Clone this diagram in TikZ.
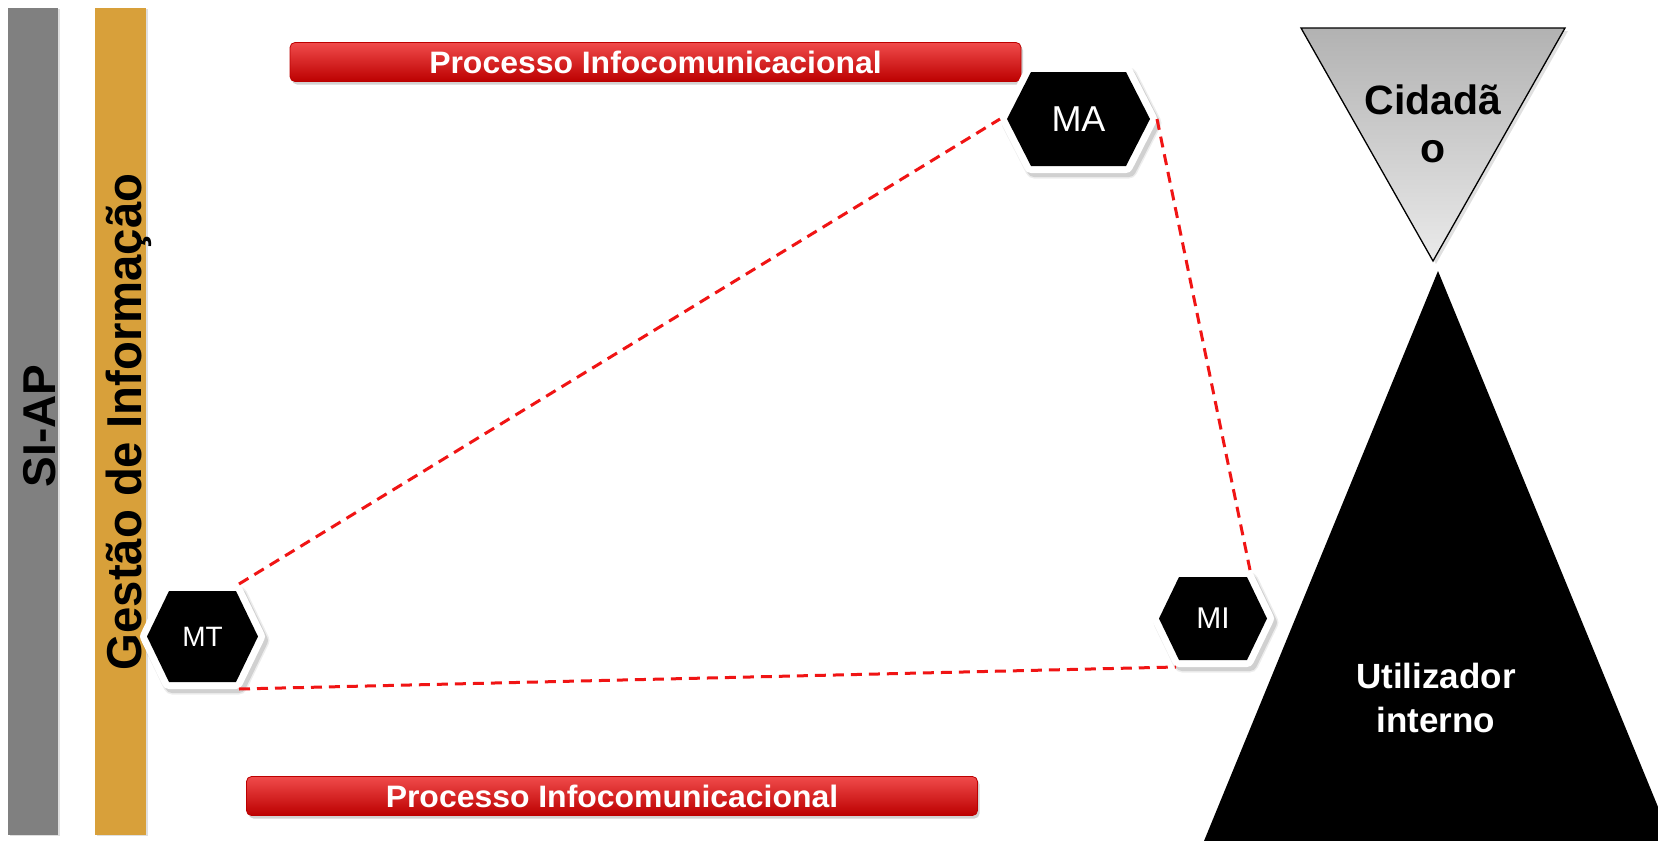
\documentclass[tikz,border=0pt]{standalone}
\usepackage{fontspec}
\setmainfont{Liberation Sans}
\usetikzlibrary{shadows}
\definecolor{siapgrey}{RGB}{128,128,128}
\definecolor{goldbar}{RGB}{216,160,58}
\definecolor{redtop}{RGB}{240,75,75}
\definecolor{redmid}{RGB}{214,8,8}
\definecolor{redbot}{RGB}{188,0,0}
\definecolor{reddash}{RGB}{240,20,20}
\definecolor{tritop}{RGB}{178,178,178}
\definecolor{tribot}{RGB}{234,234,234}
\newcommand\hexbox[9]{% #1 name, #2 cx, #3 cy, #4 half-w, #5 half-h, #6 chamfer, #7 font size, #8 text, #9 unused
  \path[hexshadow] (#2-#4,#3) -- (#2-#4+#6,#3-#5) -- (#2+#4-#6,#3-#5) -- (#2+#4,#3) -- (#2+#4-#6,#3+#5) -- (#2-#4+#6,#3+#5) -- cycle;
  \path[hexshadow, line width=17pt, opacity=0.07] (#2-#4,#3) -- (#2-#4+#6,#3-#5) -- (#2+#4-#6,#3-#5) -- (#2+#4,#3) -- (#2+#4-#6,#3+#5) -- (#2-#4+#6,#3+#5) -- cycle;
  \path[hexrim] (#2-#4,#3) -- (#2-#4+#6,#3-#5) -- (#2+#4-#6,#3-#5) -- (#2+#4,#3) -- (#2+#4-#6,#3+#5) -- (#2-#4+#6,#3+#5) -- cycle;
  \path[hexcore] (#2-#4,#3) -- (#2-#4+#6,#3-#5) -- (#2+#4-#6,#3-#5) -- (#2+#4,#3) -- (#2+#4-#6,#3+#5) -- (#2-#4+#6,#3+#5) -- cycle;
  \node[hextext, font=\fontsize{#7}{#7}\selectfont] (#1) at (#2,#3) {#8};
  \coordinate (#1-w) at (#2-#4-7,#3);
  \coordinate (#1-e) at (#2+#4+7,#3);
  \coordinate (#1-ne) at (#2+#4-#6+3,#3-#5-7);
  \coordinate (#1-se) at (#2+#4-#6+3,#3+#5+7);
  \coordinate (#1-sw) at (#2-#4+#6-3,#3+#5+7);
}
\begin{document}
\begin{tikzpicture}[x=1pt,y=-1pt,
  hexshadow/.style={fill=black, draw=black, opacity=0.12, line width=14pt, line join=round, shift={(3,4)}},
  hexrim/.style={fill=white, draw=white, line width=14pt, line join=round},
  hexcore/.style={fill=black},
  hextext/.style={text=white, inner sep=0pt},
  redbar/.style={rectangle, rounded corners=5pt, draw=redbot, line width=0.8pt,
    top color=redtop, middle color=redmid, bottom color=redbot,
    minimum width=731pt, minimum height=39pt, inner sep=0pt, text=white,
    font=\bfseries\fontsize{31}{31}\selectfont,
    drop shadow={opacity=0.35, shadow xshift=2pt, shadow yshift=-3pt}},
  sidebar/.style={rectangle, inner sep=0pt, minimum width=51pt, minimum height=827pt,
    drop shadow={opacity=0.25, shadow xshift=2pt, shadow yshift=-1pt}},
  dashcon/.style={draw=reddash, line width=3pt, dash pattern=on 11pt off 7pt}
]
\useasboundingbox (0,0) rectangle (1658,841);
\clip (0,0) rectangle (1658,841);
\fill[white] (0,0) rectangle (1658,841);

% side bars
\node[sidebar, fill=siapgrey, minimum width=50pt] (siapbar) at (33,421.5) {};
\node[sidebar, fill=goldbar] (gibar) at (120.5,421.5) {};
\node[rotate=90, anchor=base, inner sep=0pt, font=\bfseries\fontsize{46}{46}\selectfont] (siap) at (55,426) {SI-AP};
\node[rotate=90, anchor=base, inner sep=0pt, font=\bfseries\fontsize{49}{49}\selectfont] (gi) at (141,422) {\scalebox{0.965}[1]{Gestão de Informação}};

% red bars
\node[redbar] (pi1) at (655.5,62) {\scalebox{1.03}[1]{Processo Infocomunicacional}};
\node[redbar] (pi2) at (612,796) {\scalebox{1.03}[1]{Processo Infocomunicacional}};

% triangles
\path[fill=black, opacity=0.12] (1304,31) -- (1568,31) -- (1436,264) -- cycle;
\path[draw=black, line width=1.3pt, top color=tritop, bottom color=tribot, line join=miter]
  (1301,28) -- (1565,28) -- (1433,261) -- cycle;
\node[anchor=base, align=center, inner sep=0pt, font=\bfseries\fontsize{41}{48}\selectfont] (cid) at (1433,162) {Cidadã\\o};
\path[fill=black] (1438,271) -- (1672,841) -- (1204,841) -- cycle;
\node[anchor=base, align=center, inner sep=0pt, text=white, font=\bfseries\fontsize{35}{44}\selectfont] (ui) at (1436,732) {Utilizador\\interno};

% hexagons
\hexbox{MA}{1078.5}{119}{71.5}{47}{24}{36}{MA}{}
\hexbox{MT}{202.5}{636.5}{55.5}{45.5}{22}{28}{MT}{}
\hexbox{MI}{1213}{618.5}{54}{41.5}{20}{30}{MI}{}

% connectors
\draw[dashcon] (MT-ne) -- (MA-w);
\draw[dashcon] (MA-e) -- (MI-ne);
\draw[dashcon] (MT-se) -- (MI-sw);
\end{tikzpicture}
\end{document}
